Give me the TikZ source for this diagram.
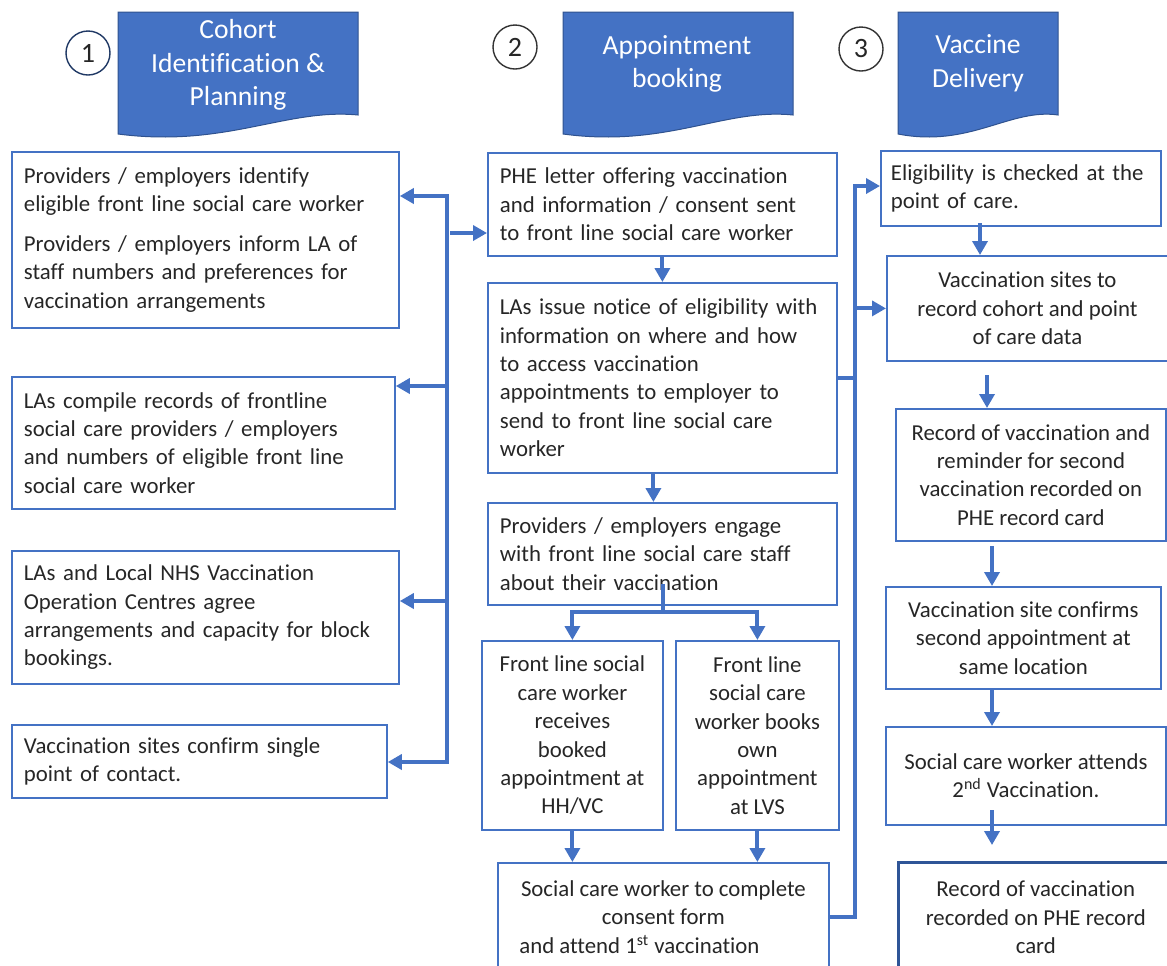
\documentclass[tikz,border=0pt]{standalone}
\usepackage{fontspec}
\setmainfont{Carlito}[Ligatures=NoCommon]
\usetikzlibrary{calc,positioning,arrows.meta,shapes}
\definecolor{flowblue}{RGB}{68,114,196}
\definecolor{edgeblue}{RGB}{47,82,143}
\definecolor{darkedge}{RGB}{47,85,151}
\definecolor{navy}{RGB}{31,56,100}
\definecolor{bodytext}{RGB}{38,38,38}

\begin{document}
\begin{tikzpicture}[x=0.5pt,y=-0.5pt,
box/.style = {rectangle, draw=flowblue, line width=0.9pt, anchor=north west, align=left,
	inner xsep=6pt, inner ysep=2pt, text=bodytext, font=\fontsize{11.4}{14.2}\selectfont},
cbox/.style = {box, align=center},
hdr/.style = {fill=flowblue, draw=edgeblue, line width=0.5pt},
hdrtext/.style = {text=white, align=center, font=\fontsize{13.8}{16.8}\selectfont},
num/.style = {circle, draw, line width=0.7pt, minimum size=22pt, inner sep=0pt,
	text=bodytext, font=\fontsize{14}{14}\selectfont},
line/.style = {draw=flowblue, line width=2pt, line cap=rect},
conn/.style = {line, -{Triangle[length=7pt,width=7.5pt]}}]

\useasboundingbox (0,0) rectangle (1167,965);

% headers
\path[hdr] (118,12) -- (358,12) -- (358,115) .. controls (286,108) and (226,148) .. (118,134) -- cycle;
\path[hdr] (563,12) -- (793,12) -- (793,115) .. controls (724,108) and (667,148) .. (563,134) -- cycle;
\path[hdr] (898,12) -- (1058,12) -- (1058,115) .. controls (1010,108) and (970,148) .. (898,134) -- cycle;
\node[hdrtext] (hdrA) at (238,65) {Cohort\\Identification \&\\Planning};
\node[hdrtext] (hdrB) at (677,64) {Appointment\\booking};
\node[hdrtext] (hdrC) at (978,63) {Vaccine\\Delivery};
\node[num, draw=navy] (numA) at (88,53) {1};
\node[num, draw=black!80] (numB) at (515,47) {2};
\node[num, draw=black!80] (numC) at (861,49) {3};

% column 1
\node[box, text width=181.5pt, minimum height=88pt] (cohA) at (11,151)
	{Providers / employers identify\\eligible front line social care worker\\[5.5pt]Providers / employers inform LA of\\staff numbers and preferences for\\vaccination arrangements};
\node[box, text width=179.5pt, minimum height=66pt] (cohB) at (11,376)
	{LAs compile records of frontline\\social care providers / employers\\and numbers of eligible front line\\social care worker};
\node[box, text width=181.5pt, minimum height=66.5pt] (cohC) at (11,550)
	{LAs and Local NHS Vaccination\\Operation Centres agree\\arrangements and capacity for block\\bookings.};
\node[box, text width=175.5pt, minimum height=36.5pt] (cohD) at (11,724)
	{Vaccination sites confirm single\\point of contact.};

% column 2
\node[box, text width=162.5pt, minimum height=51.5pt] (apptA) at (487,152)
	{PHE letter offering vaccination\\and information / consent sent\\to front line social care worker};
\node[box, text width=162.5pt, minimum height=95pt] (apptB) at (487,282)
	{LAs issue notice of eligibility with\\information on where and how\\to access vaccination\\appointments to employer to\\send to front line social care\\worker};
\node[box, text width=162.5pt, minimum height=51pt] (apptC) at (487,502)
	{Providers / employers engage\\with front line social care staff\\about their vaccination};
\node[cbox, minimum width=90.5pt, minimum height=94.5pt] (apptD) at (481,640)
	{Front line social\\care worker\\receives\\booked\\appointment at\\HH/VC};
\node[cbox, minimum width=81.5pt, minimum height=94.5pt] (apptE) at (675,640)
	{Front line\\social care\\worker books\\own\\appointment\\at LVS};
\node[cbox, minimum width=165.5pt, minimum height=54pt] (apptF) at (497,862)
	{Social care worker to complete\\consent form\\and attend 1\textsuperscript{st} vaccination\hspace*{24pt}};

% column 3
\node[box, text width=130pt, inner xsep=5pt, minimum height=37.5pt] (vacA) at (880,150)
	{Eligibility is checked at the\\point of care.};
\node[cbox, minimum width=140.5pt, minimum height=52.5pt] (vacB) at (886,255)
	{Vaccination sites to\\record cohort and point\\of care data};
\node[cbox, minimum width=135pt, minimum height=66pt] (vacC) at (895,408)
	{Record of vaccination and\\reminder for second\\vaccination recorded on\\PHE record card};
\node[cbox, minimum width=137.5pt, minimum height=51pt] (vacD) at (885,586)
	{Vaccination site confirms\\second appointment at\\same location};
\node[cbox, minimum width=140pt, minimum height=49pt] (vacE) at (885,726)
	{Social care worker attends\\2\textsuperscript{nd} Vaccination.};
\node[cbox, draw=darkedge, line width=1.3pt, minimum width=137.5pt, minimum height=55pt] (vacF) at (897,861)
	{Record of vaccination\\recorded on PHE record\\card};

% connectors, column 1
\coordinate (tapA) at (447,196);
\coordinate (tapB) at (447,386);
\coordinate (tapC) at (447,601);
\coordinate (tapD) at (447,762);
\coordinate (tapE) at (452,233);
\path[line] (tapA) -- (tapD);
\path[conn] (tapA) -- (tapA -| cohA.east);
\path[conn] (tapB) -- (tapB -| cohB.east);
\path[conn] (tapC) -- (tapC -| cohC.east);
\path[conn] (tapD) -- (tapD -| cohD.east);
\path[conn] (tapE) -- (tapE -| apptA.west);

% connectors, column 2
\coordinate (split) at (663,612);
\coordinate (busR) at (855,186);
\path[conn] (apptA.south) -- (apptB.north);
\path[conn] ($(apptB.south)+(-9,0)$) -- ($(apptC.north)+(-9,0)$);
\path[line] ($(split |- apptC.south)+(0,-20)$) -- (split);
\path[conn] (split) -| (apptD.north);
\path[conn] (split) -| (apptE.north);
\path[conn] (apptD.south) -- (apptD.south |- apptF.north);
\path[conn] (apptE.south) -- (apptE.south |- apptF.north);
\path[line] (apptB.east) -- (apptB.east -| busR);
\path[conn] (apptF.east) -| (busR) -- (busR -| vacA.west);
\path[conn] (busR |- vacB.west) -- (vacB.west);

% connectors, column 3
\coordinate (dropA) at (980,225);
\coordinate (dropB) at (987,377);
\coordinate (dropC) at (992,548);
\coordinate (dropD) at (992,690);
\coordinate (dropE) at (992,812);
\coordinate (dropF) at (992,845);
\path[conn] (dropA) -- (dropA |- vacB.north);
\path[conn] (dropB) -- (dropB |- vacC.north);
\path[conn] (dropC) -- (dropC |- vacD.north);
\path[conn] (dropD) -- (dropD |- vacE.north);
\path[conn] (dropE) -- (dropF);

\end{tikzpicture}
\end{document}
